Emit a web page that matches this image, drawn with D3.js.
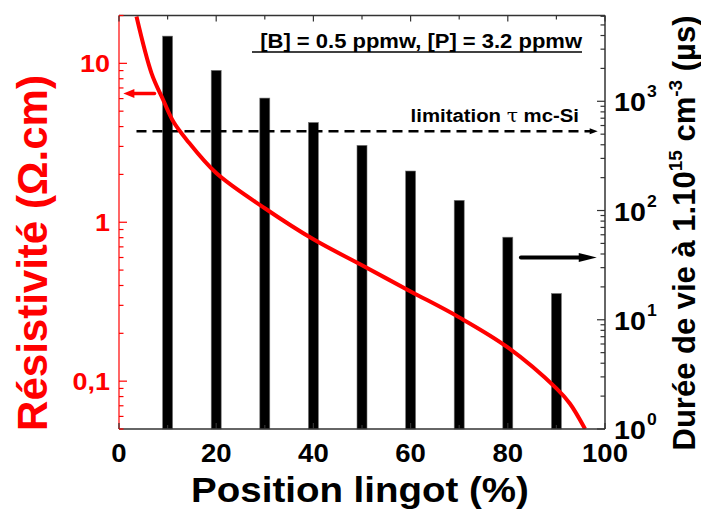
<!DOCTYPE html>
<html>
<head>
<meta charset="utf-8">
<script src="https://cdn.jsdelivr.net/npm/d3@7"></script>
<style>
  body { margin: 0; background: #fff; }
  text { font-family: "Liberation Sans", Arial, sans-serif; font-weight: bold; }
</style>
</head>
<body>
<div id="chart"></div>
<script>
// bars: carrier lifetime (right axis)
var barPos = [10, 20, 30, 40, 50, 60, 70, 80, 90];
var lifetime = [3950, 1920, 1070, 640, 395, 230, 124, 57, 17.4];

// red curve: resistivity (left axis)
var resPos = [3.6, 6.7, 9.1, 11.2, 13.9, 20, 30, 40, 50, 60, 70, 80, 90, 92.8, 95.9];
var resVal = [19.7, 8.65, 5.88, 4.29, 3.31, 2.04, 1.225, 0.781, 0.536, 0.367, 0.252, 0.163, 0.090, 0.0721, 0.050];

var xTicks = [0, 20, 40, 60, 80, 100];
var leftTicks = [0.1, 1, 10];
var leftLabels = ["0,1", "1", "10"];
var rightTicks = [1, 10, 100, 1000];
var rightExp = ["0", "1", "2", "3"];

// annotations (data coords)
var limitRes = 3.74;          // dashed "limitation" level
var limitX = [3.6, 98.5];
var leftArrow = {y: 6.47, x: [7.3, 0.9]};
var rightArrow = {y: 37.2, x: [82.7, 98.3]};

var width = 701, height = 514;
var pL = 119, pR = 605, pT = 15.5, pB = 429;
var sx = 1.1; // horizontal stretch of the original text

var x = d3.scaleLinear().domain([0, 100]).range([pL, pR]);
var yL = d3.scaleLog().domain([0.05, 20]).range([pB, pT]);
var yR = d3.scaleLog().domain([1, 6100]).range([pB, pT]);

var svg = d3.select("#chart").append("svg")
    .attr("width", width)
    .attr("height", height);

svg.append("rect").attr("width", width).attr("height", height).attr("fill", "#fff");

svg.append("clipPath").attr("id", "clip")
    .append("rect")
    .attr("x", pL).attr("y", pT)
    .attr("width", pR - pL).attr("height", pB - pT);

function label(g, px, py, s, size, anchor, fill) {
    return g.append("text")
        .attr("transform", "translate(" + px + "," + py + ") scale(" + sx + ",1)")
        .attr("text-anchor", anchor)
        .attr("font-size", size)
        .attr("fill", fill || "#000")
        .text(s);
}

// bars
svg.selectAll(".bar")
    .data(barPos)
    .enter().append("rect")
    .attr("class", "bar")
    .attr("x", function(d) { return x(d) - 5; })
    .attr("width", 10)
    .attr("y", function(d, i) { return yR(lifetime[i]); })
    .attr("height", function(d, i) { return pB - yR(lifetime[i]); })
    .attr("fill", "#000")
    .attr("stroke", "#777")
    .attr("stroke-width", 0.6);

// dashed limitation line + arrow head
var yLim = yL(limitRes);
svg.append("line")
    .attr("x1", x(limitX[0])).attr("x2", x(limitX[1]) - 6)
    .attr("y1", yLim).attr("y2", yLim)
    .attr("stroke", "#000")
    .attr("stroke-width", 2.6)
    .attr("stroke-dasharray", "10,6");
svg.append("path")
    .attr("d", "M" + x(limitX[1]) + "," + yLim + "l-8,-3l0,6z")
    .attr("fill", "#000");

// resistivity curve
var line = d3.line()
    .x(function(d) { return x(d[0]); })
    .y(function(d) { return yL(d[1]); })
    .curve(d3.curveCatmullRom.alpha(0.5));

svg.append("path")
    .datum(d3.zip(resPos, resVal))
    .attr("clip-path", "url(#clip)")
    .attr("d", line)
    .attr("fill", "none")
    .attr("stroke", "#ff0000")
    .attr("stroke-width", 4);

// arrows
var ya = yL(leftArrow.y);
svg.append("line")
    .attr("x1", x(leftArrow.x[0])).attr("x2", x(leftArrow.x[1]) + 8)
    .attr("y1", ya).attr("y2", ya)
    .attr("stroke", "#ff0000").attr("stroke-width", 3.5).attr("stroke-linecap", "round");
svg.append("path")
    .attr("d", "M" + x(leftArrow.x[1]) + "," + ya + "l11,-4.5l0,9z")
    .attr("fill", "#ff0000");

var yb = yR(rightArrow.y);
svg.append("line")
    .attr("x1", x(rightArrow.x[0])).attr("x2", x(rightArrow.x[1]) - 14)
    .attr("y1", yb).attr("y2", yb)
    .attr("stroke", "#000").attr("stroke-width", 4).attr("stroke-linecap", "round");
svg.append("path")
    .attr("d", "M" + x(rightArrow.x[1]) + "," + yb + "l-18,-4.5l0,9z")
    .attr("fill", "#000");

// frame
svg.append("line").attr("x1", pL).attr("x2", pR).attr("y1", pT).attr("y2", pT)
    .attr("stroke", "#333").attr("stroke-width", 1.5);
svg.append("line").attr("x1", pR).attr("x2", pR).attr("y1", pT).attr("y2", pB)
    .attr("stroke", "#333").attr("stroke-width", 1.5);
svg.append("line").attr("x1", pL).attr("x2", pR).attr("y1", pB).attr("y2", pB)
    .attr("stroke", "#333").attr("stroke-width", 1.5);
svg.append("line").attr("x1", pL).attr("x2", pL).attr("y1", pT).attr("y2", pB)
    .attr("stroke", "#ff0000").attr("stroke-width", 1.2);

// x ticks (top and bottom, inward)
var xAll = d3.range(0, 101, 10);
svg.selectAll(".xtickTop").data(xAll).enter().append("line")
    .attr("x1", function(d) { return x(d); }).attr("x2", function(d) { return x(d); })
    .attr("y1", pT).attr("y2", function(d) { return pT + (d % 20 === 0 ? 6 : 4); })
    .attr("stroke", "#333").attr("stroke-width", 1.2);
svg.selectAll(".xtickBot").data(xAll).enter().append("line")
    .attr("x1", function(d) { return x(d); }).attr("x2", function(d) { return x(d); })
    .attr("y1", pB).attr("y2", function(d) { return pB - (d % 20 === 0 ? 6 : 4); })
    .attr("stroke", "#333").attr("stroke-width", 1.2);

// log ticks
function logTicks(lo, hi) {
    var out = [];
    for (var e = Math.floor(Math.log10(lo)); e <= Math.ceil(Math.log10(hi)); e++) {
        for (var m = 1; m < 10; m++) {
            var v = m * Math.pow(10, e);
            if (v >= lo * 0.999 && v <= hi * 1.001) out.push({v: v, major: m === 1});
        }
    }
    return out;
}

svg.selectAll(".ltick").data(logTicks(0.05, 20)).enter().append("line")
    .attr("x1", pL).attr("x2", function(d) { return pL + (d.major ? 8 : 4.5); })
    .attr("y1", function(d) { return yL(d.v); }).attr("y2", function(d) { return yL(d.v); })
    .attr("stroke", "#ff0000").attr("stroke-width", 1.2);

svg.selectAll(".rtick").data(logTicks(1, 6100)).enter().append("line")
    .attr("x1", pR).attr("x2", function(d) { return pR - (d.major ? 8 : 4.5); })
    .attr("y1", function(d) { return yR(d.v); }).attr("y2", function(d) { return yR(d.v); })
    .attr("stroke", "#333").attr("stroke-width", 1.2);

// tick labels
xTicks.forEach(function(d) {
    label(svg, x(d), 462, d, 25, "middle");
});
leftTicks.forEach(function(d, i) {
    label(svg, 110, yL(d) + 9, leftLabels[i], 24.5, "end", "#ff0000");
});
rightTicks.forEach(function(d, i) {
    var t = label(svg, 614, yR(d) + 10, "", 26, "start");
    t.append("tspan").text("10");
    t.append("tspan").attr("font-size", 16).attr("dy", -14).attr("dx", 1).text(rightExp[i]);
});

// annotations
label(svg, 582, 48, "[B] = 0.5 ppmw, [P] = 3.2 ppmw", 20, "end");
svg.append("line")
    .attr("x1", 252).attr("x2", 582).attr("y1", 52).attr("y2", 52)
    .attr("stroke", "#000").attr("stroke-width", 1.6);

var lim = label(svg, 579, 122, "", 18.5, "end");
lim.append("tspan").text("limitation ");
lim.append("tspan").attr("font-family", "DejaVu Serif, serif").attr("font-weight", "normal").text("τ");
lim.append("tspan").text(" mc-Si");

// axis titles
label(svg, 360, 502, "Position lingot (%)", 35, "middle");

svg.append("text")
    .attr("transform", "translate(47,253) rotate(-90)")
    .attr("text-anchor", "middle")
    .attr("font-size", 42)
    .attr("fill", "#ff0000")
    .text("Résistivité (Ω.cm)");

var rt = svg.append("text")
    .attr("transform", "translate(695,233) rotate(-90)")
    .attr("text-anchor", "middle")
    .attr("font-size", 31)
    .attr("fill", "#000");
rt.append("tspan").text("Durée de vie à 1.10");
rt.append("tspan").attr("font-size", 19).attr("dy", -13).text("15");
rt.append("tspan").attr("dy", 13).text(" cm");
rt.append("tspan").attr("font-size", 19).attr("dy", -13).text("-3");
rt.append("tspan").attr("dy", 13).text(" (µs)");
</script>
</body>
</html>
